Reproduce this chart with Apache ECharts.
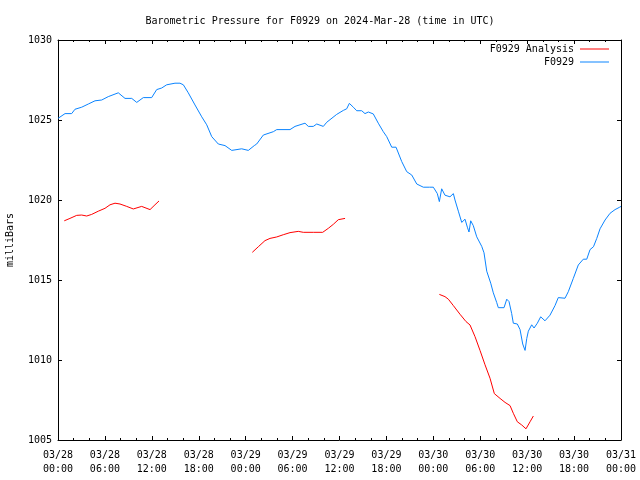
<!DOCTYPE html>
<html><head><meta charset="utf-8">
<script src="https://cdn.jsdelivr.net/npm/echarts@6/dist/echarts.min.js"></script>
<style>html,body{margin:0;padding:0;background:#fff}#c{width:640px;height:480px}</style>
</head><body><div id="c"></div>
<script>
// Hours since 2024-03-28 00:00 UTC
const stationHours = [0,0.9,1.75,2.17,3.03,3.88,4.73,5.59,6.43,7.71,8.57,9.43,10.07,10.91,11.98,12.62,13.26,13.9,14.96,15.6,16.03,16.66,17.52,18.38,19.02,19.66,20.5,21.36,22.22,23.49,24.34,25.1,25.41,26.26,27.54,27.97,29.67,30.31,31.59,32.01,32.65,33.09,33.93,34.37,35.64,36.49,36.92,37.26,37.77,38.2,38.84,39.26,39.69,40.32,40.96,41.6,42.04,42.68,43.23,43.96,44.6,45.24,45.88,46.72,47.49,48.0,48.51,48.77,49.07,49.49,50.13,50.35,50.56,50.77,51.2,51.63,52.05,52.35,52.56,52.78,53.11,53.55,54.19,54.48,54.83,55.34,55.67,56.1,56.31,57.04,57.39,57.68,58.02,58.23,58.74,59.09,59.43,59.73,59.95,60.15,60.58,60.88,61.3,61.73,62.28,62.92,63.56,63.98,64.84,65.26,65.9,66.54,67.18,67.62,68.04,68.48,68.9,69.32,69.96,70.6,71.24,71.79,72];
const stationPressure = [1025.1,1025.4,1025.4,1025.67,1025.8,1026.0,1026.2,1026.25,1026.46,1026.7,1026.35,1026.35,1026.1,1026.4,1026.4,1026.9,1027.0,1027.2,1027.3,1027.3,1027.2,1026.7,1025.94,1025.2,1024.7,1023.96,1023.5,1023.4,1023.1,1023.2,1023.1,1023.4,1023.5,1024.06,1024.27,1024.4,1024.4,1024.6,1024.8,1024.6,1024.6,1024.75,1024.6,1024.86,1025.35,1025.6,1025.7,1026.04,1025.8,1025.58,1025.58,1025.4,1025.5,1025.38,1024.8,1024.27,1023.96,1023.3,1023.3,1022.4,1021.77,1021.56,1021.0,1020.8,1020.8,1020.8,1020.4,1019.9,1020.7,1020.3,1020.2,1020.1,1020.4,1020.0,1019.3,1018.6,1018.8,1018.3,1018.0,1018.7,1018.4,1017.7,1017.1,1016.7,1015.55,1014.8,1014.2,1013.6,1013.27,1013.27,1013.8,1013.65,1012.9,1012.3,1012.25,1011.9,1011.0,1010.6,1011.35,1011.8,1012.2,1012.0,1012.3,1012.7,1012.45,1012.8,1013.4,1013.9,1013.86,1014.27,1015.1,1015.94,1016.3,1016.3,1016.9,1017.08,1017.6,1018.2,1018.75,1019.17,1019.4,1019.54,1019.6];
const analysisHours = [0.8,1.53,2.39,3.03,3.67,4.31,5.15,6.01,6.65,7.29,7.93,8.79,9.63,10.7,11.77,12.4,12.92,null,24.85,25.62,26.47,27.11,27.97,28.81,29.67,30.73,31.37,32.65,33.85,34.57,35.21,35.85,36.71,null,48.77,49.49,49.92,50.56,51.41,52.18,52.69,53.33,53.97,54.61,55.25,55.8,56.53,57.17,57.81,58.23,58.74,59.3,59.85,60.37,60.79];
const analysisPressure = [1018.7,1018.85,1019.04,1019.06,1019.0,1019.1,1019.3,1019.48,1019.7,1019.8,1019.75,1019.6,1019.44,1019.6,1019.4,1019.7,1019.94,null,1016.73,1017.08,1017.46,1017.6,1017.69,1017.83,1017.96,1018.04,1017.98,1017.98,1017.98,1018.23,1018.48,1018.77,1018.85,null,1014.1,1013.96,1013.8,1013.4,1012.86,1012.4,1012.19,1011.46,1010.6,1009.7,1008.86,1007.9,1007.6,1007.35,1007.15,1006.67,1006.14,1005.94,1005.7,1006.14,1006.5];
const dateLabels = ['03/28','03/28','03/28','03/28','03/29','03/29','03/29','03/29','03/30','03/30','03/30','03/30','03/31'];
const timeLabels = ['00:00','06:00','12:00','18:00','00:00','06:00','12:00','18:00','00:00','06:00','12:00','18:00','00:00'];
const yTicks = [1005,1010,1015,1020,1025,1030];

const FONT = 'DejaVu Sans Mono';
const pair = (xs, ys) => xs.map((x, i) => x === null ? [null, null] : [x, ys[i]]);
const tickStyle = {show:true, inside:true, length:4, lineStyle:{color:'#000', width:1}};
const minorStyle = {show:true, splitNumber:3, length:2, lineStyle:{color:'#000', width:1}};
const axisLine = {show:true, onZero:false, lineStyle:{color:'#000', width:1}};

const chart = echarts.init(document.getElementById('c'), null, {renderer:'canvas'});
chart.setOption({
  animation:false,
  backgroundColor:'#fff',
  textStyle:{fontFamily:FONT},
  title:{text:'Barometric Pressure for F0929 on 2024-Mar-28 (time in UTC)', left:'center', top:11,
    textStyle:{fontFamily:FONT, fontSize:10, fontWeight:'normal', color:'#000'}},
  grid:{left:58, right:19, top:40, bottom:40, containLabel:false, outerBoundsMode:'none'},
  legend:{orient:'vertical', right:31, top:44, align:'right', padding:0, itemGap:3,
    itemWidth:29, itemHeight:1, icon:'rect',
    textStyle:{fontFamily:FONT, fontSize:10, color:'#000', padding:[0,1,0,0]},
    data:['F0929 Analysis','F0929']},
  xAxis:[
    {type:'value', min:0, max:72, interval:6, axisLine:axisLine, axisTick:tickStyle, minorTick:minorStyle,
     splitLine:{show:false},
     axisLabel:{fontFamily:FONT, fontSize:10, color:'#000', margin:8, lineHeight:14,
       formatter:(v)=>{const i=Math.round(v/6); return dateLabels[i]+'\n'+timeLabels[i];}}},
    {type:'value', min:0, max:72, interval:6, position:'top', axisLine:axisLine, axisTick:tickStyle,
     minorTick:minorStyle, splitLine:{show:false}, axisLabel:{show:false}}
  ],
  yAxis:[
    {type:'value', min:1005, max:1030, interval:5, axisLine:axisLine, axisTick:tickStyle,
     splitLine:{show:false}, name:'milliBars', nameLocation:'middle', nameGap:43, nameRotate:90,
     nameTextStyle:{fontFamily:FONT, fontSize:10, color:'#000'},
     axisLabel:{fontFamily:FONT, fontSize:10, color:'#000', margin:6,
       formatter:(v)=>String(yTicks[yTicks.indexOf(v)] ?? v)}},
    {type:'value', min:1005, max:1030, interval:5, position:'right', axisLine:axisLine, axisTick:tickStyle,
     splitLine:{show:false}, axisLabel:{show:false}}
  ],
  series:[
    {name:'F0929 Analysis', type:'line', data:pair(analysisHours, analysisPressure), showSymbol:false,
     connectNulls:false, lineStyle:{color:'#ff0000', width:1}, itemStyle:{color:'#ff0000'}},
    {name:'F0929', type:'line', data:pair(stationHours, stationPressure), showSymbol:false,
     lineStyle:{color:'#0a84ff', width:1}, itemStyle:{color:'#0a84ff'}}
  ]
});
</script></body></html>
